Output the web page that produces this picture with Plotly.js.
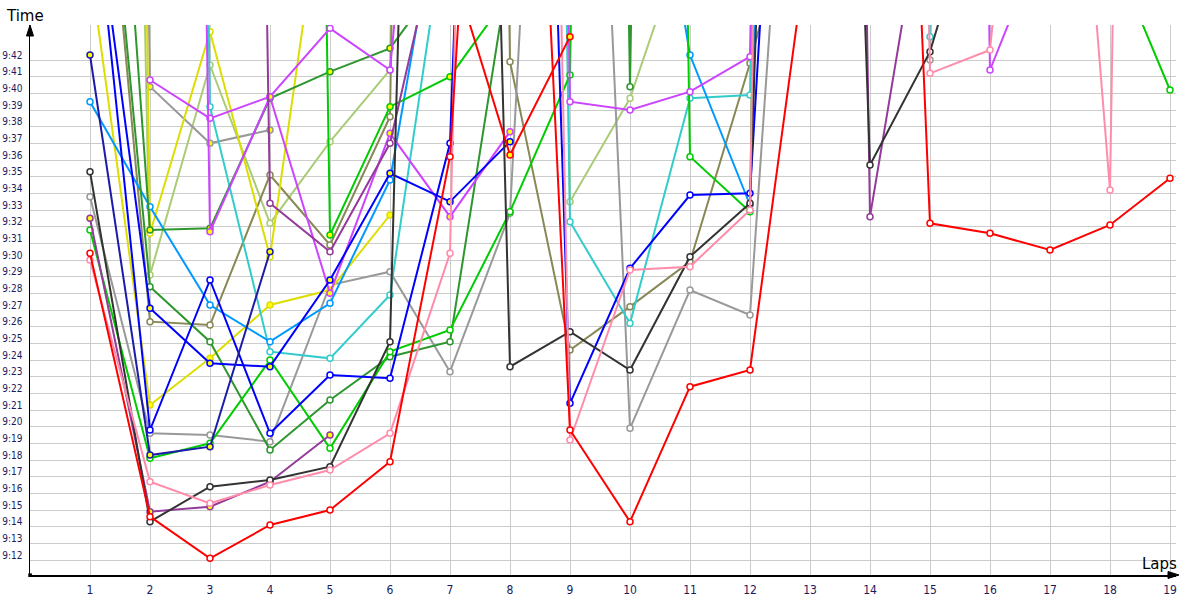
<!DOCTYPE html>
<html>
<head>
<meta charset="utf-8">
<script src="https://cdn.plot.ly/plotly-3.0.1.min.js"></script>
<style>html,body{margin:0;padding:0;background:#fff;}#chart{width:1200px;height:600px;}</style>
</head>
<body>
<div id="chart"></div>
<script>
// ---- data (lap times in seconds; 582 = 9:42) ----
const laps = [1,2,3,4,5,6,7,8,9,10,11,12,13,14,15,16,17,18,19];
const timeTickValues = [552,553,554,555,556,557,558,559,560,561,562,563,564,565,566,567,568,569,570,571,572,573,574,575,576,577,578,579,580,581,582];
const timeTickLabels = ["9:12","9:13","9:14","9:15","9:16","9:17","9:18","9:19","9:20","9:21","9:22","9:23","9:24","9:25","9:26","9:27","9:28","9:29","9:30","9:31","9:32","9:33","9:34","9:35","9:36","9:37","9:38","9:39","9:40","9:41","9:42"];

const redA     = [570.4,554.6,552.1,554.1,555.0,557.9,576.2,635,559.8,554.3,562.4,563.4,590,658,572.2,571.6,570.6,572.1,574.9];
const redB     = [null,null,null,null,null,null,588,576.3,583.4,null,null,null,null,null,null,null,null,null,null];
const pinkA    = [570.0,556.7,555.4,556.5,557.4,559.6,570.4,735,559.2,569.4,569.6,573.0,800,800,581.2,582.6,619,574.2,800];
const darkA    = [575.3,554.3,556.4,556.8,557.6,565.1,700,563.6,565.7,563.4,570.2,573.4,680,575.7,582.5,594.5,null,null,null];
const grayA    = [573.8,559.6,559.5,559.1,568.5,569.3,563.3,572.8,640.6,559.9,568.2,566.7,619,800,582.0,800,null,null,null];
const grayB    = [800,580.4,577.0,577.8,null,null,null,null,null,null,null,null,null,null,null,null,null,null,null];
const navyB    = [582.3,558.3,558.8,570.5,null,null,null,null,null,null,null,null,null,null,null,null,null,null,null];
const blueA    = [594.6,559.8,568.8,559.6,563.1,562.9,577.0,675,561.4,569.5,573.9,574.0,634.6,null,null,null,null,null,null];
const blueB    = [594.1,567.1,563.8,563.6,568.8,575.2,573.5,577.1,null,null,null,null,null,null,null,null,null,null,null];
const skyA     = [579.5,573.2,567.3,565.1,567.4,574.8,595.5,700,700,604,582.3,573.3,700,null,null,null,null,null,null];
const cyanA    = [null,800,579.2,564.5,564.1,567.9,592.2,800,572.3,566.2,579.7,579.9,800,800,583.4,800,null,null,null];
const greenA   = [571.8,558.1,559.0,564.0,558.7,564.5,565.8,572.9,581.1,800,576.2,572.9,800,800,800,800,800,588.8,580.2];
const greenB   = [null,null,null,800,571.5,579.2,581.0,586,null,null,null,null,null,null,null,null,null,null,null];
const dgreenA  = [606,568.4,565.1,558.6,561.6,564.2,565.1,587.9,800,580.4,800,null,null,null,null,null,null,null,null];
const dgreenB  = [621,571.8,571.9,579.7,581.3,582.7,587.6,null,null,null,null,null,null,null,null,null,null,null,null];
const purpleA  = [null,null,800,573.4,570.5,577.0,592.8,800,800,800,800,800,802,572.6,594.2,null,null,null,null];
const purpleB  = [572.5,554.9,555.2,556.7,559.5,null,null,null,null,null,null,null,null,null,null,null,null,null,null];
const magentaA = [null,580.8,578.5,579.8,583.9,581.4,620,800,579.5,579.0,580.1,582.2,800,800,800,581.4,590.4,null,null];
const magentaB = [null,800,571.7,579.8,568.0,577.6,572.6,577.7,null,null,null,null,null,null,null,null,null,null,null];
const yellowA  = [830,571.6,583.7,570.2,595.5,null,null,null,null,null,null,null,null,null,null,null,null,null,null];
const yellowB  = [587.6,561.3,564.1,567.3,568.2,572.7,null,null,null,null,null,null,null,null,null,null,null,null,null];
const limeA    = [749,569.1,581.7,572.2,577.1,581.4,800,800,573.5,579.7,590.3,800,null,null,null,null,null,null,null];
const oliveA   = [605.8,566.3,566.1,575.1,570.9,578.6,800,581.9,564.6,567.2,569.9,581.8,595.6,null,null,null,null,null,null];

// ---- styles ----
const series = [
  {y: limeA,    c: '#aacc77', f: '#ffffff'},
  {y: oliveA,   c: '#888855', f: '#ffffff'},
  {y: grayA,    c: '#999999', f: '#ffffff'},
  {y: grayB,    c: '#999999', f: '#ffff00'},
  {y: yellowA,  c: '#dddd00', f: '#ffffff'},
  {y: yellowB,  c: '#dddd00', f: '#ffff00'},
  {y: cyanA,    c: '#33cccc', f: '#ffffff'},
  {y: skyA,     c: '#0099ff', f: '#ffffff'},
  {y: dgreenA,  c: '#2e962e', f: '#ffffff'},
  {y: dgreenB,  c: '#2e962e', f: '#ffff00'},
  {y: greenA,   c: '#00cc00', f: '#ffffff'},
  {y: greenB,   c: '#00cc00', f: '#ffff00'},
  {y: magentaA, c: '#cc44ff', f: '#ffffff'},
  {y: magentaB, c: '#cc44ff', f: '#ffff00'},
  {y: purpleA,  c: '#933a9a', f: '#ffffff'},
  {y: purpleB,  c: '#933a9a', f: '#ffff00'},
  {y: blueA,    c: '#0000ff', f: '#ffffff'},
  {y: blueB,    c: '#0000ff', f: '#ffff00'},
  {y: navyB,    c: '#1c1ca8', f: '#ffff00'},
  {y: darkA,    c: '#333333', f: '#ffffff'},
  {y: pinkA,    c: '#ff8caa', f: '#ffffff'},
  {y: redB,     c: '#ff0000', f: '#ffff00'},
  {y: redA,     c: '#ff0000', f: '#ffffff'}
];

const traces = series.map(s => ({
  type: 'scatter', mode: 'lines+markers', x: laps, y: s.y,
  connectgaps: false, hoverinfo: 'skip',
  line: {color: s.c, width: 2},
  marker: {symbol: 'circle', size: 6, color: s.f, line: {color: s.c, width: 1.5}}
}));

// pixel helpers for decorations (plot area: x 30..1176, y 25..575)
const L = 30, R = 1176, T = 25, B = 575;
const px = v => (v - L) / (R - L);
const py = v => (B - v) / (B - T);

const layout = {
  width: 1200, height: 600,
  margin: {l: L, r: 1200 - R, t: T, b: 600 - B, pad: 0},
  paper_bgcolor: '#ffffff', plot_bgcolor: '#ffffff',
  showlegend: false,
  font: {family: '"DejaVu Sans Condensed", "DejaVu Sans", sans-serif', color: '#1a1a5e'},
  xaxis: {
    range: [0, 19.1], tickvals: laps, ticktext: laps.map(String),
    showgrid: true, gridcolor: '#cccccc', gridwidth: 1,
    zeroline: false, showline: true, linecolor: '#000000', linewidth: 1.5,
    ticks: '', ticklabelstandoff: 3, tickfont: {size: 12, color: '#1a1a5e'}
  },
  yaxis: {
    range: [551.1, 584.1], tickvals: timeTickValues, ticktext: timeTickLabels,
    showgrid: true, gridcolor: '#cccccc', gridwidth: 1,
    zeroline: false, showline: true, linecolor: '#000000', linewidth: 1.5,
    ticks: '', ticklabelstandoff: 4, ticklabelshift: -5, tickfont: {size: 10, color: '#1a1a5e'}
  },
  annotations: [
    {xref: 'paper', yref: 'paper', x: px(25), y: py(16), text: 'Time', showarrow: false,
     xanchor: 'center', yanchor: 'middle', font: {size: 15, color: '#000000', family: '"DejaVu Sans", sans-serif'}},
    {xref: 'paper', yref: 'paper', x: px(1159), y: py(564), text: 'Laps', showarrow: false,
     xanchor: 'center', yanchor: 'middle', font: {size: 15, color: '#000000', family: '"DejaVu Sans", sans-serif'}}
  ],
  shapes: [
    {type: 'line', xref: 'paper', yref: 'paper', x0: px(1175), x1: px(1172), y0: py(575), y1: py(575), line: {color: '#000', width: 1.5}},
    {type: 'path', xref: 'paper', yref: 'paper', fillcolor: '#000', line: {color: '#000', width: 1},
     path: `M ${px(1179)} ${py(575)} L ${px(1168)} ${py(571.5)} L ${px(1168)} ${py(578.5)} Z`},
    {type: 'path', xref: 'paper', yref: 'paper', fillcolor: '#000', line: {color: '#000', width: 1},
     path: `M ${px(30)} ${py(25)} L ${px(26.5)} ${py(36)} L ${px(33.5)} ${py(36)} Z`},
    {type: 'rect', xref: 'paper', yref: 'paper', x0: px(28.3), x1: px(31.9), y0: py(577), y1: py(573.4),
     fillcolor: '#000', line: {color: '#000', width: 0}}
  ]
};

Plotly.newPlot('chart', traces, layout, {staticPlot: true, displayModeBar: false});
</script>
</body>
</html>
